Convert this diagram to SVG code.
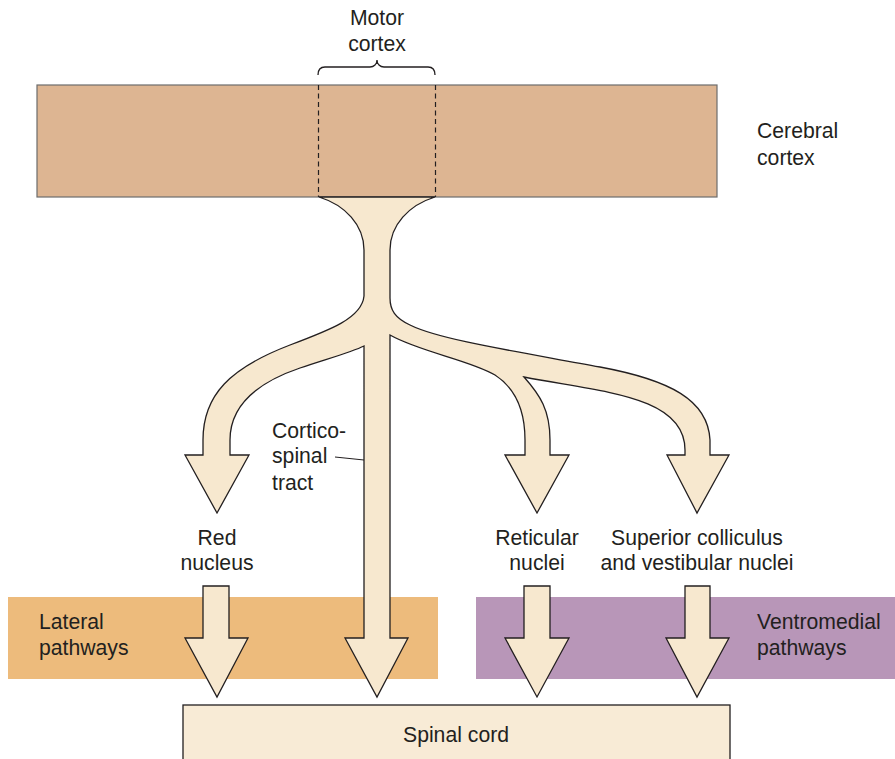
<svg xmlns="http://www.w3.org/2000/svg" width="895" height="759" viewBox="0 0 895 759">
<style>
text{font-family:"Liberation Sans",Arial,Helvetica,sans-serif;font-size:21.2px;fill:#231f20}
.c{text-anchor:middle}
.tract{fill:#f7e8cf;stroke:#231f20;stroke-width:1.3;stroke-linejoin:miter}
</style>
<rect width="895" height="759" fill="#ffffff"/>
<g id="lateral-pathways">
<rect x="8" y="597" width="430" height="82" fill="#edbb7c"/>
<text x="39" y="629">Lateral</text>
<text x="39" y="655">pathways</text>
</g>
<g id="ventromedial-pathways">
<rect x="476" y="597" width="419" height="82" fill="#b896b8"/>
<text x="757" y="629">Ventromedial</text>
<text x="757" y="655">pathways</text>
</g>
<g id="spinal-cord">
<rect x="183" y="705" width="547" height="60" fill="#f8ebd6" stroke="#231f20" stroke-width="1.3"/>
<text class="c" x="456" y="742">Spinal cord</text>
</g>
<g id="cerebral-cortex">
<rect x="37" y="85" width="680" height="112" fill="#ddb592" stroke="#6d6d6d" stroke-width="1.2"/>
<text x="757" y="138">Cerebral</text>
<text x="757" y="165">cortex</text>
</g>
<g id="motor-cortex">
<path d="M318.5,85 V197 M435.5,85 V197" fill="none" stroke="#231f20" stroke-width="1.2" stroke-dasharray="5,3.5"/>
<path d="M318,75 C318,70 320,67 325,67 H370 C374,67 377,64 377,60 C377,64 380,67 384,67 H428 C433,67 435,70 435,75" fill="none" stroke="#231f20" stroke-width="1.3"/>
<text class="c" x="377" y="25">Motor</text>
<text class="c" x="377" y="51">cortex</text>
</g>
<g id="connectors">
<path class="tract" d="M319,197 C345,205 364,225 364,250 L364,296 C362,318 330,330 290,345 C230,368 203,395 203,440 L203,455 L185,455 L217,513 L249,455 L230,455 L230,440 C230,410 250,385 300,368 C330,358 352,352 364,346 L364,638 L345,638 L377,697 L408,638 L390,638 L390,335 C420,352 470,360 495,375 C518,390 525,415 525,440 L525,455 L505,455 L537,513 L569,455 L550,455 L550,440 C550,410 540,395 524,377 C600,392 685,395 685,450 L685,455 L667,455 L697,513 L729,455 L710,455 L710,440 C708,400 670,380 600,367 C520,352 440,340 410,325 C395,318 390,310 390,298 L390,250 C390,225 409,205 435,197 Z"/>
<path class="tract" d="M203,586 H229 V638 H248 L217,697 L185,638 H203 Z"/>
<path class="tract" d="M524,586 H550 V638 H569 L537,697 L505,638 H524 Z"/>
<path class="tract" d="M685,586 H710 V638 H729 L697,697 L666,638 H685 Z"/>
<line x1="335" y1="457" x2="364" y2="460" stroke="#231f20" stroke-width="1"/>
</g>
<g id="labels">
<text x="272" y="438">Cortico-</text>
<text x="272" y="463">spinal</text>
<text x="272" y="490">tract</text>
<text class="c" x="217" y="545">Red</text>
<text class="c" x="217" y="570">nucleus</text>
<text class="c" x="537" y="545">Reticular</text>
<text class="c" x="537" y="570">nuclei</text>
<text class="c" x="697" y="545">Superior colliculus</text>
<text class="c" x="697" y="570">and vestibular nuclei</text>
</g>
</svg>
